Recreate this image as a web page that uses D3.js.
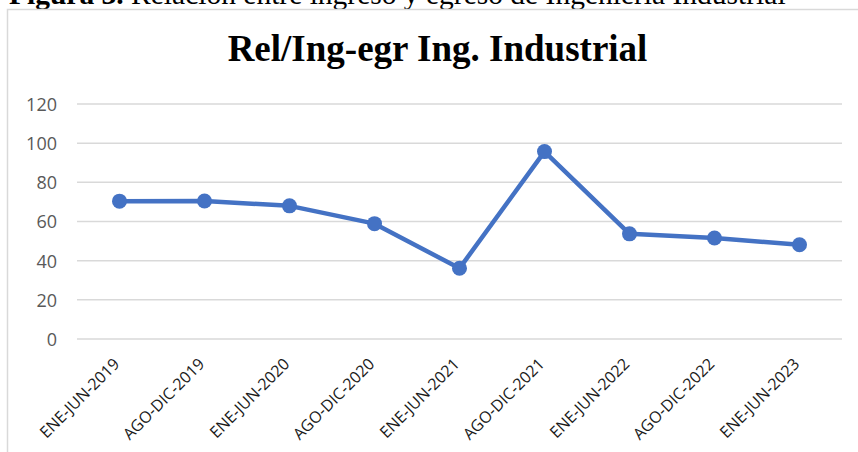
<!DOCTYPE html>
<html><head><meta charset="utf-8">
<script src="https://cdn.jsdelivr.net/npm/d3@7"></script>
<style>html,body{margin:0;padding:0;background:#fff;overflow:hidden}</style>
</head><body><svg id="c" width="858" height="452"></svg>
<script>
const categories = ["ENE-JUN-2019","AGO-DIC-2019","ENE-JUN-2020","AGO-DIC-2020","ENE-JUN-2021","AGO-DIC-2021","ENE-JUN-2022","AGO-DIC-2022","ENE-JUN-2023"];
const values = [70.4, 70.5, 68, 58.9, 36.1, 95.7, 53.7, 51.6, 48.1];
const yTicks = [0, 20, 40, 60, 80, 100, 120];
const chartTitle = "Rel/Ing-egr Ing. Industrial";
const captionBold = "Figura 3.";
const captionText = " Relación entre ingreso y egreso de Ingeniería Industrial";

const svg = d3.select("#c");
// caption (cut off at top, as in the reference)
const cap = svg.append("text").attr("x", 9).attr("y", 4)
  .attr("font-family", "Liberation Serif, Times New Roman, serif").attr("font-size", 29.5).attr("fill", "#000");
cap.append("tspan").attr("font-weight", "bold").text(captionBold);
cap.append("tspan").text(captionText);

// chart frame
svg.append("rect").attr("x", 7.5).attr("y", 9.5).attr("width", 900).attr("height", 500)
  .attr("fill", "#fff").attr("stroke", "#d9d9d9").attr("stroke-width", 1.5);

svg.append("text").attr("x", 437.5).attr("y", 61).attr("text-anchor", "middle")
  .attr("font-family", "Liberation Serif, Times New Roman, serif").attr("font-weight", "bold")
  .attr("font-size", 37).attr("fill", "#000").text(chartTitle);

const x = d3.scaleBand().domain(categories).range([77, 842]);
const y = d3.scaleLinear().domain([0, 120]).range([339, 104]);

const grid = svg.append("g");
grid.selectAll("line").data(yTicks).join("line")
  .attr("x1", 77).attr("x2", 842)
  .attr("y1", d => y(d)).attr("y2", d => y(d))
  .attr("stroke", "#d9d9d9").attr("stroke-width", 1.5);

const yAxis = svg.append("g").attr("transform", "translate(77,0)")
  .call(d3.axisLeft(y).tickValues(yTicks).tickSize(0).tickPadding(20));
yAxis.select(".domain").remove();
yAxis.selectAll("text").attr("font-family", "Open Sans, Liberation Sans, sans-serif")
  .attr("font-size", 18).attr("fill", "#595959").attr("dy", "0.36em");

const xAxis = svg.append("g").attr("transform", "translate(0,339)")
  .call(d3.axisBottom(x).tickSize(0).tickPadding(0));
xAxis.select(".domain").remove();
xAxis.selectAll("text")
  .attr("font-family", "Open Sans, Liberation Sans, sans-serif").attr("font-size", 16).attr("fill", "#1a1a1a")
  .attr("text-anchor", "end").attr("dy", 0)
  .attr("transform", "translate(1,26) rotate(-45)");

const line = d3.line().x((d, i) => x(categories[i]) + x.bandwidth() / 2).y(d => y(d));
svg.append("path").datum(values).attr("d", line).attr("fill", "none")
  .attr("stroke", "#4472C4").attr("stroke-width", 4.5).attr("stroke-linejoin", "round");
svg.append("g").selectAll("circle").data(values).join("circle")
  .attr("cx", (d, i) => x(categories[i]) + x.bandwidth() / 2).attr("cy", d => y(d))
  .attr("r", 7.5).attr("fill", "#4472C4");
</script></body></html>
